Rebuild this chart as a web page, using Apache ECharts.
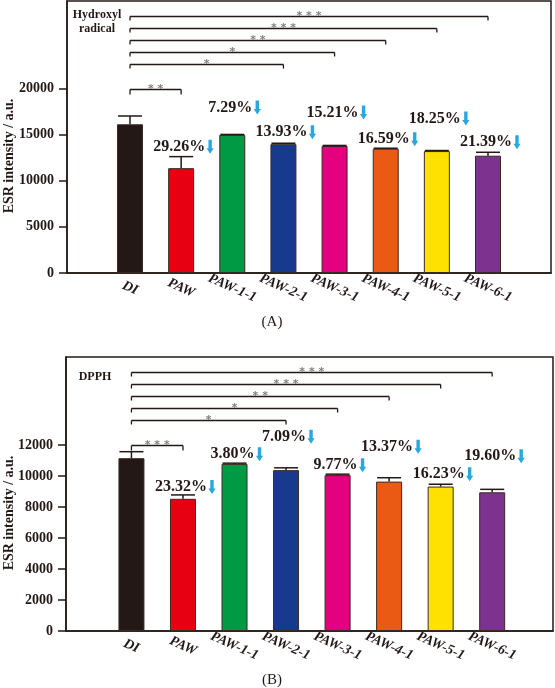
<!DOCTYPE html>
<html><head><meta charset="utf-8">
<script src="https://cdn.jsdelivr.net/npm/echarts@6/dist/echarts.min.js"></script>
<style>html,body{margin:0;padding:0;background:#fff}#c{width:555px;height:688px}</style>
</head><body><div id="c"></div>
<script>
// ---------------- data ----------------
const categories = ['DI','PAW','PAW-1-1','PAW-2-1','PAW-3-1','PAW-4-1','PAW-5-1','PAW-6-1'];
const hydroxylValues = [16100, 11350, 14950, 13950, 13750, 13450, 13200, 12700];
const hydroxylErrors = [900, 1250, 50, 100, 60, 60, 60, 370];
const hydroxylDecrease = ['', '29.26%', '7.29%', '13.93%', '15.21%', '16.59%', '18.25%', '21.39%'];
const hydroxylSig = [[0, 1, '**'], [0, 3, '*'], [0, 4, '*'], [0, 5, '**'], [0, 6, '***'], [0, 7, '***']];
const hydroxylTicks = [0, 5000, 10000, 15000, 20000];
const dpphValues = [11150, 8530, 10780, 10380, 10060, 9640, 9320, 8950];
const dpphErrors = [420, 250, 50, 150, 60, 250, 150, 190];
const dpphDecrease = ['', '23.32%', '3.80%', '7.09%', '9.77%', '13.37%', '16.23%', '19.60%'];
const dpphSig = [[0, 1, '***'], [0, 3, '*'], [0, 4, '*'], [0, 5, '**'], [0, 6, '***'], [0, 7, '***']];
const dpphTicks = [0, 2000, 4000, 6000, 8000, 10000, 12000];

// ---------------- style ----------------
const barColors = ['#231815', '#e60012', '#009a44', '#173a8f', '#e4007f', '#eb5a14', '#ffe100', '#7d3290'];
const ink = '#231815';
const serif = '"Liberation Serif", "Times New Roman", serif';
const arrowColor = '#2aa7df';
const pctFont = 'bold 16px "Liberation Serif"';
const liftA = [10, 27, 11, 33, 9, 32, 10];
const liftB = [8, 9, 31, 9, 31, 10, 33];

const ctx = document.createElement('canvas').getContext('2d');
ctx.font = pctFont;
function textW(t) { return ctx.measureText(t).width; }

const chart = echarts.init(document.getElementById('c'), null, { renderer: 'canvas' });

function xAxisFor(gi, min, max) {
  return {
    type: 'value', gridIndex: gi, min: min, max: max,
    axisLine: { show: true, onZero: false, lineStyle: { color: ink, width: 1.5 } },
    axisTick: { show: false },
    splitLine: { show: false },
    axisLabel: {
      customValues: categories.map((c, i) => i),
      formatter: v => categories[Math.round(v)] || '',
      rotate: -24, align: 'center', verticalAlign: 'middle', margin: 15,
      fontFamily: serif, fontStyle: 'italic', fontWeight: 'bold', fontSize: 14, color: ink
    }
  };
}
function yAxisFor(gi, max, ticks) {
  return {
    type: 'value', gridIndex: gi, min: 0, max: max,
    axisLine: { show: true, onZero: false, lineStyle: { color: ink, width: 1.5 } },
    axisTick: { show: true, customValues: ticks, length: 8, lineStyle: { color: ink, width: 1.5 } },
    splitLine: { show: false },
    axisLabel: { customValues: ticks, formatter: v => String(v), margin: 13, fontFamily: serif, fontWeight: 'bold', fontSize: 14, color: ink }
  };
}

function barSeries(gi, values) {
  return {
    type: 'bar', xAxisIndex: gi, yAxisIndex: gi, barWidth: 26,
    data: values.map((v, i) => ({ value: [i, v], itemStyle: { color: barColors[i], borderColor: '#3b2a22', borderWidth: 1 } })),
    z: 2
  };
}
function errSeries(gi, values, errs) {
  return {
    type: 'custom', xAxisIndex: gi, yAxisIndex: gi, z: 3,
    data: values.map((v, i) => [i, v, errs[i]]),
    encode: { x: 0, y: 1 },
    renderItem: function (params, api) {
      const i = api.value(0), v = api.value(1), e = api.value(2);
      const p0 = api.coord([i, v]), p1 = api.coord([i, v + e]);
      return { type: 'group', children: [
        { type: 'line', shape: { x1: p0[0], y1: p0[1], x2: p1[0], y2: p1[1] }, style: { stroke: ink, lineWidth: 1.5 } },
        { type: 'line', shape: { x1: p1[0] - 12, y1: p1[1], x2: p1[0] + 12, y2: p1[1] }, style: { stroke: ink, lineWidth: 1.5 } }
      ] };
    }
  };
}
function pctSeries(gi, values, errs, labels, lifts) {
  const data = [];
  for (let i = 1; i < values.length; i++) data.push([i, values[i] + errs[i]]);
  return {
    type: 'custom', xAxisIndex: gi, yAxisIndex: gi, z: 4,
    data: data, encode: { x: 0, y: 1 },
    renderItem: function (params, api) {
      const i = api.value(0), top = api.value(1);
      const p = api.coord([i, top]);
      const t = labels[i];
      const w = textW(t);
      const cx = p[0] - 2, cy = p[1] - lifts[params.dataIndex];
      const ax = cx + w / 2 + 5;
      return { type: 'group', children: [
        { type: 'text', x: cx, y: cy, style: { text: t, font: pctFont, fill: ink, align: 'center', verticalAlign: 'middle' } },
        { type: 'polygon', shape: { points: [[ax - 1.7, cy - 7], [ax + 1.7, cy - 7], [ax + 1.7, cy + 1.5], [ax + 3.6, cy + 1.5], [ax, cy + 7], [ax - 3.6, cy + 1.5], [ax - 1.7, cy + 1.5]] }, style: { fill: arrowColor } }
      ] };
    }
  };
}
function sigSeries(gi, sig) {
  return {
    type: 'custom', xAxisIndex: gi, yAxisIndex: gi, z: 4,
    data: sig.map(s => [s[0], s[1]]), encode: { x: [0, 1] },
    renderItem: function (params, api) {
      const from = api.value(0), to = api.value(1);
      const cs = params.coordSys;
      const x1 = api.coord([from, 0])[0], x2 = api.coord([to, 0])[0];
      const off = to === 1 ? 88 : 15 + (7 - to) * 12.1;
      const y = Math.round(cs.y + off) + 0.5;
      const d = to === 1 ? 5 : 4;
      const stars = sig[params.dataIndex][2].split('').join(' ');
      const ls = { stroke: ink, lineWidth: 1.3 };
      return { type: 'group', children: [
        { type: 'line', shape: { x1: x1, y1: y, x2: x1, y2: y + d }, style: ls },
        { type: 'line', shape: { x1: x1, y1: y, x2: x2, y2: y }, style: ls },
        { type: 'line', shape: { x1: x2, y1: y, x2: x2, y2: y + d }, style: ls },
        { type: 'text', x: (x1 + x2) / 2, y: y + 5, style: { text: stars, font: 'bold 11px "DejaVu Sans"', fill: '#808080', align: 'center', verticalAlign: 'bottom' } }
      ] };
    }
  };
}

const option = {
  animation: false,
  grid: [
    { left: 67, top: 1, width: 484, height: 272, show: true, borderColor: ink, borderWidth: 1.5, backgroundColor: 'transparent' },
    { left: 66, top: 357, width: 487, height: 274, show: true, borderColor: ink, borderWidth: 1.5, backgroundColor: 'transparent' }
  ],
  xAxis: [xAxisFor(0, -1.232, 8.232), xAxisFor(1, -1.27, 8.18)],
  yAxis: [yAxisFor(0, 29450, hydroxylTicks), yAxisFor(1, 17680, dpphTicks)],
  series: [
    barSeries(0, hydroxylValues), errSeries(0, hydroxylValues, hydroxylErrors),
    pctSeries(0, hydroxylValues, hydroxylErrors, hydroxylDecrease, liftA), sigSeries(0, hydroxylSig),
    barSeries(1, dpphValues), errSeries(1, dpphValues, dpphErrors),
    pctSeries(1, dpphValues, dpphErrors, dpphDecrease, liftB), sigSeries(1, dpphSig)
  ],
  graphic: [
    { type: 'text', x: 97, y: 15, style: { text: 'Hydroxyl', font: 'bold 12px "Liberation Serif"', fill: ink, align: 'center', verticalAlign: 'middle' } },
    { type: 'text', x: 97, y: 29, style: { text: 'radical', font: 'bold 12px "Liberation Serif"', fill: ink, align: 'center', verticalAlign: 'middle' } },
    { type: 'text', x: 95, y: 377, style: { text: 'DPPH', font: 'bold 12px "Liberation Serif"', fill: ink, align: 'center', verticalAlign: 'middle' } },
    { type: 'text', x: 9, y: 156, rotation: Math.PI / 2, style: { text: 'ESR intensity / a.u.', font: 'bold 14px "Liberation Serif"', fill: ink, align: 'center', verticalAlign: 'middle' } },
    { type: 'text', x: 9, y: 513, rotation: Math.PI / 2, style: { text: 'ESR intensity / a.u.', font: 'bold 14px "Liberation Serif"', fill: ink, align: 'center', verticalAlign: 'middle' } },
    { type: 'text', x: 272, y: 322, style: { text: '(A)', font: '15px "Liberation Serif"', fill: ink, align: 'center', verticalAlign: 'middle' } },
    { type: 'text', x: 272, y: 680, style: { text: '(B)', font: '15px "Liberation Serif"', fill: ink, align: 'center', verticalAlign: 'middle' } }
  ]
};
chart.setOption(option);
</script></body></html>
